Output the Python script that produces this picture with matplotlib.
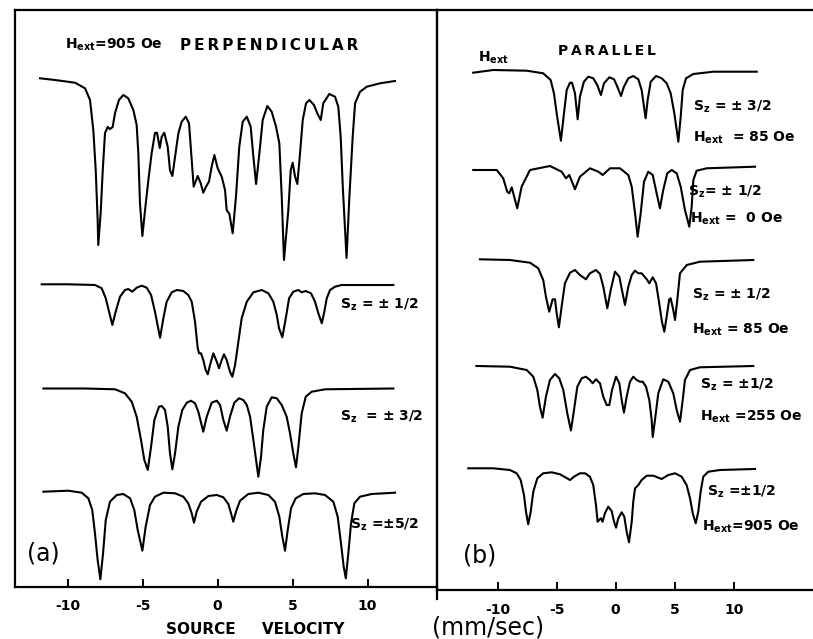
import matplotlib
matplotlib.use("Agg")
import matplotlib.pyplot as plt

plt.rcParams['font.family'] = ['DejaVu Sans']
plt.rcParams['mathtext.fontset'] = 'dejavusans'

# ---------------- data (velocity in mm/sec, absorption depth in arbitrary units) ----------------
# Panel (a): H_ext = 905 Oe perpendicular
a1_v = [-11.83, -10.83, -9.5, -8.83, -8.5, -8.28, -8.12, -7.99, -7.95, -7.79, -7.65, -7.5, -7.32, -7.17,
        -6.99, -6.83, -6.57, -6.28, -5.95, -5.61, -5.39, -5.28, -5.17, -5.01, -4.83, -4.61, -4.39, -4.17,
        -4.03, -3.85, -3.72, -3.55, -3.32, -3.17, -3.01, -2.83, -2.61, -2.39, -2.12, -1.9, -1.77, -1.59,
        -1.32, -1.12, -0.95, -0.77, -0.57, -0.39, -0.21, 0.01, 0.28, 0.5, 0.61, 0.79, 1.01, 1.23, 1.45,
        1.68, 1.95, 2.21, 2.39, 2.57, 2.79, 3.01, 3.32, 3.61, 3.9, 4.12, 4.28, 4.43, 4.72, 4.88, 5.01,
        5.17, 5.32, 5.5, 5.68, 5.9, 6.12, 6.43, 6.65, 6.88, 7.05, 7.45, 7.83, 8.05, 8.21, 8.35, 8.6,
        8.79, 9.01, 9.17, 9.5, 9.95, 10.83, 11.83]
a1_d = [-1.7, 0, 2.7, 8.3, 20, 50, 90, 140, 165, 133, 90, 53, 47, 49,
        47, 33, 20, 15, 18.3, 30, 45, 73, 123, 156, 130, 100, 73, 53,
        52.7, 68, 56.7, 52.7, 66.7, 90, 96, 76.7, 53.3, 41.7, 36.7, 43.3, 70, 106.7,
        96, 103.3, 112.7, 106.7, 101.7, 86.7, 75, 88.3, 96.7, 110, 130, 134, 153.3, 116.7, 66.7,
        41.7, 36.7, 46.7, 76.7, 104, 73.3, 40, 26, 31.7, 46.7, 63.3, 116.7, 180, 130, 90, 82.7,
        96.7, 104, 73.3, 40, 23.3, 20, 25, 33.3, 40, 23.3, 14, 16.7, 26.7, 56.7, 106.7, 178,
        116.7, 56.7, 23.3, 11.7, 6.7, 3.3, 1]

# S_z = +-1/2
a2_v = [-11.72, -9.95, -8.17, -7.72, -7.45, -7.23, -7.01, -6.79, -6.5, -6.17, -5.95, -5.68, -5.39, -5.05,
        -4.72, -4.43, -4.17, -3.83, -3.61, -3.39, -3.05, -2.72, -2.28, -1.95, -1.72, -1.5, -1.32, -1.23,
        -1.1, -0.95, -0.79, -0.65, -0.5, -0.28, -0.05, 0.1, 0.28, 0.43, 0.61, 0.83, 0.99, 1.17, 1.39,
        1.61, 1.95, 2.39, 2.95, 3.39, 3.72, 3.95, 4.1, 4.32, 4.55, 4.77, 5.05, 5.39, 5.61, 5.88, 6.23,
        6.5, 6.72, 6.95, 7.12, 7.28, 7.5, 7.83, 8.28, 11.72]
a2_d = [-0.7, -0.7, 0, 3.3, 13.3, 26.7, 40, 26.7, 11.7, 5, 4, 6.7, 2.7, 0.7,
        2.7, 10, 26.7, 52.7, 33.3, 16.7, 7.3, 5, 6, 10, 16.7, 36.7, 63.3, 68.3,
        68.3, 75, 85, 89.3, 80, 68.3, 76.7, 83.3, 75, 69.3, 75, 86.7, 91.7, 80, 56.7,
        33.3, 16.7, 7.3, 5, 8.3, 16.7, 30, 43.3, 52.3, 33.3, 13.3, 6.7, 5, 7.3, 6, 8.3,
        16.7, 28.3, 38.3, 26.7, 13.3, 5, 1.7, 0, 0]

# S_z = +-3/2
a3_v = [-11.61, -8.83, -6.83, -6.17, -5.72, -5.39, -5.1, -4.88, -4.65, -4.43, -4.21, -3.9, -3.72, -3.5,
        -3.32, -3.17, -3.01, -2.83, -2.61, -2.35, -2.05, -1.77, -1.5, -1.28, -0.95, -0.72, -0.39, -0.05,
        0.17, 0.39, 0.61, 0.83, 1.12, 1.43, 1.72, 1.95, 2.17, 2.39, 2.57, 2.72, 2.9, 3.05, 3.28, 3.61,
        3.95, 4.28, 4.61, 4.83, 5.05, 5.23, 5.39, 5.61, 5.88, 6.28, 7.17, 11.72]
a3_d = [0, 0, 0.8, 4.8, 13.2, 28.2, 51.5, 71.5, 81.5, 58.2, 31.5, 18.2, 17.5, 21.5,
        38.2, 64.8, 80.8, 64.8, 38.2, 21.5, 14.2, 12.2, 14.8, 23.2, 43.2, 28.2, 14.2, 12.2,
        16.5, 31.5, 42.2, 28.2, 14.2, 9.8, 11.5, 16.5, 28.2, 51.5, 71.5, 88.2, 68.2, 41.5, 18.2, 8.8,
        9.8, 16.5, 28.2, 44.8, 64.8, 78.8, 58.2, 24.8, 8.2, 3.2, 0.8, 0]

# S_z = +-5/2
a4_v = [-11.61, -9.95, -9.05, -8.61, -8.35, -8.17, -7.99, -7.81, -7.63, -7.45, -7.17, -6.72, -6.28, -5.83,
        -5.55, -5.32, -5.01, -4.79, -4.5, -4.17, -3.61, -2.83, -2.28, -1.95, -1.72, -1.57, -1.39, -1.1,
        -0.61, -0.05, 0.39, 0.72, 0.9, 1.05, 1.23, 1.5, 2.05, 2.72, 3.39, 3.83, 4.12, 4.32, 4.5, 4.68,
        4.9, 5.21, 5.72, 6.5, 7.17, 7.72, 8.01, 8.23, 8.41, 8.55, 8.72, 8.9, 9.12, 9.5, 10.28, 11.83]
a4_d = [-0.3, -1.3, 0.7, 6.3, 18, 41.3, 68, 87.3, 61.3, 28, 9.7, 3, 2, 6.3,
        18, 38, 58.7, 34.7, 13, 4.7, 0.7, 1.3, 4.7, 11.3, 21.3, 30.7, 19.7, 9.7,
        4, 3, 5.3, 12, 21.3, 29.7, 19.7, 8.7, 2, 0.7, 3, 9.7, 24.7, 44.7, 58.7, 38,
        16.3, 6.3, 2, 1.3, 3, 9.7, 24.7, 51.3, 74.7, 86.3, 61.3, 31.3, 11.3, 4.7, 2, 0.7]

# Panel (b): H_ext parallel
b1_v = [-12.07, -10.37, -7.54, -6.14, -5.51, -5.23, -5.0, -4.64, -4.38, -4.15, -3.87, -3.7, -3.45, -3.22,
        -3.03, -2.69, -2.32, -1.9, -1.56, -1.25, -0.99, -0.54, -0.14, 0.14, 0.45, 0.7, 1.07, 1.49, 1.92,
        2.2, 2.4, 2.54, 2.71, 2.97, 3.42, 3.9, 4.32, 4.66, 4.97, 5.31, 5.51, 5.68, 5.96, 6.58, 8.27, 11.95]
b1_d = [1.7, -1, -0.3, 2.3, 9, 22.3, 42.3, 69.7, 42.3, 19, 11.7, 11.7, 22.3, 48.3,
        25.7, 10.7, 5.7, 7.3, 14, 24, 12.3, 6.3, 8.3, 15.7, 25, 15.7, 7.3, 5, 8.3,
        19, 35.7, 47.3, 29, 10.7, 5, 7.3, 12.3, 22.3, 42.3, 70.7, 45.7, 19, 7.3, 3, 0.7, 0.7]

b2_v = [-12.07, -10.08, -9.53, -9.19, -9.02, -8.81, -8.34, -7.97, -7.26, -5.57, -4.58, -4.21, -3.93, -3.45,
        -3.03, -2.18, -1.47, -1.1, -0.48, 0.36, 1.07, 1.36, 1.64, 1.86, 2.12, 2.4, 2.76, 3.14, 3.47, 3.75,
        4.03, 4.37, 4.75, 5.17, 5.51, 5.87, 6.24, 6.44, 6.58, 6.86, 7.71, 11.81]
b2_d = [2, 2, 10.3, 23.7, 25.3, 19.3, 40.3, 18.7, 2, -2, 3.7, 10.3, 7, 21.3,
        8.7, 0.3, 3.7, 7, 0.3, 0.3, 7, 18.7, 45.3, 68.7, 45.3, 13.7, 3.7, 7, 25.3, 40.3,
        22, 5.3, 2, 5.3, 18.7, 42, 58.7, 38.7, 12, 2.7, 0.3, -1.3]

b3_v = [-11.5, -8.96, -7.26, -6.56, -6.14, -5.91, -5.63, -5.34, -5.14, -5.0, -4.81, -4.58, -4.3, -3.87,
        -3.45, -3.03, -2.52, -2.18, -1.67, -1.33, -1.05, -0.71, -0.42, -0.06, 0.31, 0.53, 0.79, 1.07,
        1.36, 1.64, 1.92, 2.2, 2.63, 2.85, 3.14, 3.42, 3.69, 3.92, 4.12, 4.32, 4.54, 4.66, 4.88, 5.03,
        5.22, 5.45, 6.02, 7.14, 11.66]
b3_d = [-0.7, 0, 2.7, 8.3, 20, 36.7, 51.7, 39.3, 39.3, 53.3, 67.3, 46.7, 23.3, 12.7,
        10, 15, 19.3, 13.3, 10, 14, 26.7, 48.3, 30, 11.7, 16.7, 30, 45, 26.7,
        15, 10.7, 13.3, 13.3, 19.3, 23.3, 17.3, 23.3, 43.3, 61.7, 71.7, 56.7, 39.3, 38.3, 50, 60,
        40, 13.3, 5, 1.7, 0]

b4_v = [-11.8, -8.96, -7.54, -6.98, -6.64, -6.42, -6.19, -5.91, -5.57, -5.14, -4.78, -4.44, -4.1, -3.79,
        -3.53, -3.25, -2.88, -2.52, -2.18, -1.95, -1.67, -1.33, -1.05, -0.76, -0.54, -0.31, 0.03, 0.31,
        0.51, 0.7, 0.93, 1.21, 1.49, 1.78, 2.06, 2.29, 2.57, 2.85, 3.05, 3.14, 3.33, 3.61, 4.03, 4.46,
        4.88, 5.17, 5.45, 5.68, 5.87, 6.3, 7.14, 11.66]
b4_d = [0, 0.7, 4, 10.7, 24, 40.7, 51.7, 30.7, 14, 8, 12.3, 24, 47.3, 64.5,
        44, 20.7, 12.3, 10.7, 14, 17.3, 13.3, 17.3, 30.7, 39, 39, 24, 10.7, 17.3,
        34, 46.7, 30.7, 15.7, 10.7, 14, 15.7, 15.7, 20.7, 34, 54, 71, 54, 27.3, 13.3, 15.7,
        27.3, 44, 55.7, 34, 14, 4, 1.3, 0]

b5_v = [-12.49, -10.37, -8.96, -8.39, -8.05, -7.77, -7.6, -7.41, -7.2, -6.98, -6.64, -6.14, -5.42, -4.72,
        -4.21, -3.87, -3.53, -3.03, -2.6, -2.18, -1.9, -1.67, -1.53, -1.4, -1.25, -1.11, -0.91, -0.63,
        -0.34, -0.14, 0.03, 0.22, 0.51, 0.73, 0.93, 1.13, 1.36, 1.49, 1.64, 1.92, 2.2, 2.63, 3.19, 3.9,
        4.46, 5.03, 5.59, 6.01, 6.3, 6.53, 6.78, 7.0, 7.2, 7.42, 7.85, 8.84, 11.81]
b5_d = [-0.7, -0.7, 1, 4.3, 11, 26, 42.7, 55.3, 42.7, 22.7, 9.3, 4.3, 3.3, 5.3,
        8.7, 11, 7.7, 4.3, 4.3, 7.7, 16, 36, 52.7, 51, 49.3, 52.7, 44.3, 37.7,
        42, 52.7, 58.7, 49.3, 43.3, 47.7, 62.7, 73.3, 52.7, 32.7, 19.3, 16, 11, 6.7, 6.7, 10,
        6, 4.3, 7.7, 16, 29.3, 44.3, 54.3, 42.7, 22.7, 7.7, 2.7, 1, 0]

tick_values = [-10, -5, 0, 5, 10]
tick_labels = ['-10', '-5', '0', '5', '10']

# ---------------- layout ----------------
W, H = 813, 639
fig = plt.figure(figsize=(W / 100, H / 100), dpi=100)
fig.patch.set_facecolor('white')

LW = 1.5
SPW = 1.6
bold = dict(fontweight='bold', fontsize=10, color='black')
TS = '\u2009'  # thin space for the wide lettering


def spaced(word):
    return TS.join(word)


# left panel
ax1 = fig.add_axes([15 / W, 1 - 587 / H, 422 / W, 577 / H])
ax1.set_xlim(-13.5, 14.63)
ax1.set_ylim(0, 577)
bases_a = [507, 302, 198.5, 95]
for (v, d), b in zip([(a1_v, a1_d), (a2_v, a2_d), (a3_v, a3_d), (a4_v, a4_d)], bases_a):
    ax1.plot(v, [b - x for x in d], color='black', lw=LW, solid_joinstyle='round')

# right panel
ax2 = fig.add_axes([437 / W, 1 - 590 / H, 376 / W, 580 / H])
ax2.set_xlim(-15.14, 16.72)
ax2.set_ylim(0, 580)
bases_b = [519, 422, 330, 224, 121]
for (v, d), b in zip([(b1_v, b1_d), (b2_v, b2_d), (b3_v, b3_d), (b4_v, b4_d), (b5_v, b5_d)], bases_b):
    ax2.plot(v, [b - x for x in d], color='black', lw=LW, solid_joinstyle='round')

for ax in (ax1, ax2):
    ax.set_facecolor('none')
    ax.set_yticks([])
    ax.set_xticks(tick_values)
    ax.set_xticklabels(tick_labels, fontweight='bold', fontsize=10)
    ax.tick_params(axis='x', direction='in', length=6, width=1.4, pad=9)
    for s in ax.spines.values():
        s.set_linewidth(SPW)
ax2.spines['right'].set_visible(False)
ax2.spines['left'].set_visible(False)

# divider line extending slightly below
ax1.plot([1, 1], [-0.02, 1], transform=ax1.transAxes, color='black', lw=SPW, clip_on=False)

# ---------------- text ----------------
ax1.text(-10.17, 542, r'$\mathbf{H_{ext}}$=905 Oe', ha='left', va='center', **bold)
ax1.text(-2.5, 542, spaced('PERPENDICULAR'), ha='left', va='center',
         fontweight='bold', fontsize=11, color='black')
ax1.text(8.17, 282, r'$\mathbf{S_z}$ = ± 1/2', ha='left', va='center', **bold)
ax1.text(8.17, 170, r'$\mathbf{S_z}$  = ± 3/2', ha='left', va='center', **bold)
ax1.text(8.83, 62, r'$\mathbf{S_z}$ =±5/2', ha='left', va='center', **bold)
ax1.text(-12.7, 34, '(a)', ha='left', va='center', fontsize=17, color='black')
ax1.text(2.5, -43, 'SOURCE     VELOCITY', ha='center', va='center', clip_on=False,
         fontweight='bold', fontsize=11, color='black')

ax2.text(-11.67, 532, r'$\mathbf{H_{ext}}$', ha='left', va='center', **bold)
ax2.text(-4.89, 539, spaced('PARALLEL'), ha='left', va='center', **bold)
ax2.text(6.55, 483, r'$\mathbf{S_z}$ = ± 3/2', ha='left', va='center', **bold)
ax2.text(6.55, 452, r'$\mathbf{H_{ext}}$  = 85 Oe', ha='left', va='center', **bold)
ax2.text(6.13, 398, r'$\mathbf{S_z}$= ± 1/2', ha='left', va='center', **bold)
ax2.text(6.3, 371, r'$\mathbf{H_{ext}}$ =  0 Oe', ha='left', va='center', **bold)
ax2.text(6.47, 295, r'$\mathbf{S_z}$ = ± 1/2', ha='left', va='center', **bold)
ax2.text(6.47, 260, r'$\mathbf{H_{ext}}$ = 85 Oe', ha='left', va='center', **bold)
ax2.text(7.14, 205, r'$\mathbf{S_z}$ = ±1/2', ha='left', va='center', **bold)
ax2.text(7.14, 173, r'$\mathbf{H_{ext}}$ =255 Oe', ha='left', va='center', **bold)
ax2.text(7.74, 98, r'$\mathbf{S_z}$ =±1/2', ha='left', va='center', **bold)
ax2.text(7.31, 63, r'$\mathbf{H_{ext}}$=905 Oe', ha='left', va='center', **bold)
ax2.text(-12.94, 35, '(b)', ha='left', va='center', fontsize=17, color='black')
ax2.text(-15.57, -37, '(mm/sec)', ha='left', va='center', fontsize=17, color='black', clip_on=False)

fig.savefig('out.png', dpi=100, facecolor='white')
